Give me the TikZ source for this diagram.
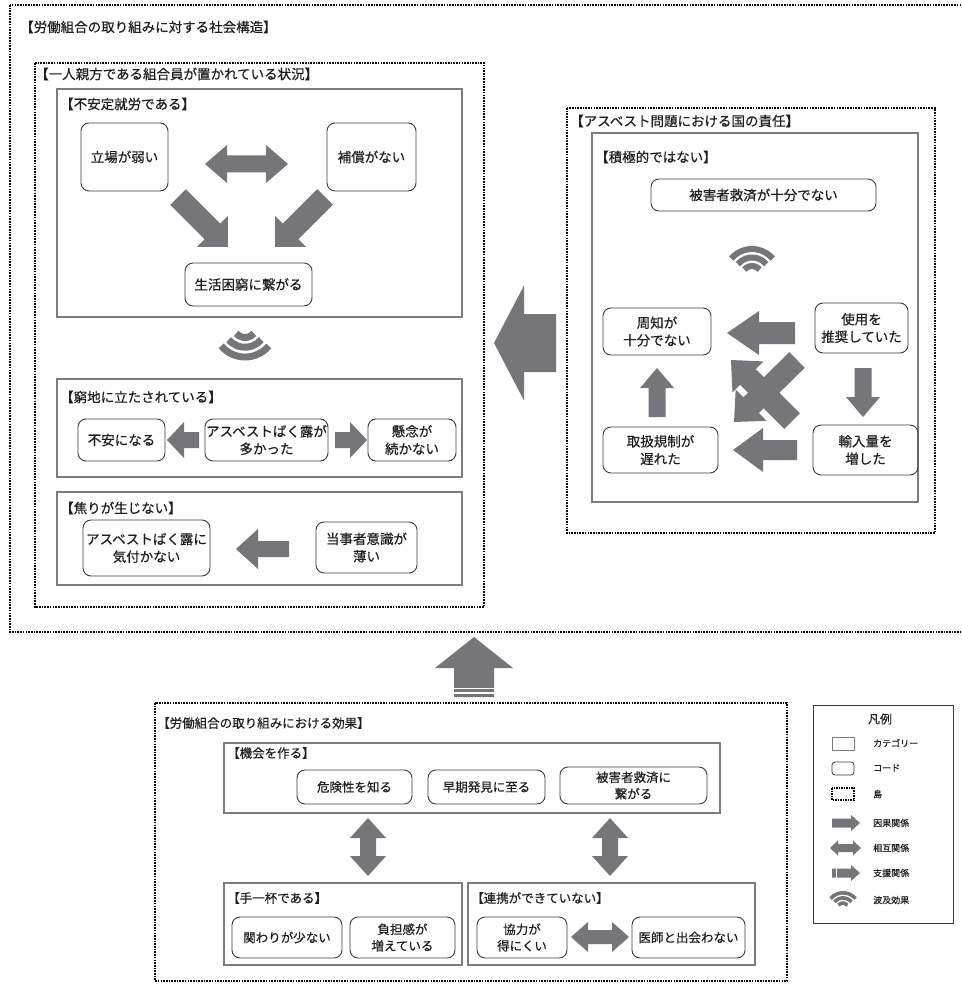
\documentclass[tikz,border=0pt]{standalone}
\usepackage{fontspec}
\setmainfont{Noto Sans CJK JP}[FakeBold=0.35]
\usetikzlibrary{calc}
\definecolor{arr}{RGB}{117,117,122}
\definecolor{catc}{RGB}{125,125,125}
\definecolor{codec}{RGB}{60,60,60}
\definecolor{txt}{RGB}{30,30,30}
\newcommand\fs{\fontsize{13.5}{17.5}\selectfont}
\newcommand\fsb{\fontsize{12.5}{16.5}\selectfont}
\newcommand\fsl{\fontsize{9}{11}\selectfont}
\tikzset{
  island/.style={draw=black, line width=1.6pt, dash pattern=on 1.6pt off 1.1pt},
  catbox/.style={draw=catc, line width=1.1pt, inner sep=0pt},
  codebox/.style={draw=codec, line width=0.9pt, rounded corners=8pt, align=center, inner sep=0pt, text=txt, font=\fs},
  codeb/.style={codebox, font=\fsb},
  lbl/.style={anchor=west, inner sep=0pt, text=txt, font=\fs},
  lblb/.style={lbl, font=\fsb},
  leg/.style={anchor=west, inner sep=0pt, text=txt, font=\fsl},
}
\newcommand\faprep[2]{%
  \path let \p1=(#1), \p2=(#2) in \pgfextra{%
    \pgfmathsetmacro\tmpang{atan2((\y2)-(\y1),(\x2)-(\x1))}%
    \pgfmathsetmacro\tmplen{veclen((\x2)-(\x1),(\y2)-(\y1))}%
    \xdef\faang{\tmpang}\xdef\falen{\tmplen}};}
% #2 from, #3 to, #4 half shaft, #5 half head, #6 head length
\newcommand\fatarrow[6][]{%
  \faprep{#2}{#3}%
  \fill[arr,shift={(#2)},rotate=\faang,#1] (0,-#4) -- ({\falen-#6},-#4) -- ({\falen-#6},-#5) -- (\falen,0) -- ({\falen-#6},#5) -- ({\falen-#6},#4) -- (0,#4) -- cycle;}
\newcommand\fatdouble[6][]{%
  \faprep{#2}{#3}%
  \fill[arr,shift={(#2)},rotate=\faang,#1] (0,0) -- (#6,-#5) -- (#6,-#4) -- ({\falen-#6},-#4) -- ({\falen-#6},-#5) -- (\falen,0) -- ({\falen-#6},#5) -- ({\falen-#6},#4) -- (#6,#4) -- (#6,#5) -- cycle;}
% stripe across last drawn arrow: #1 from, #2 distance, #3 half width, #4 thickness
\newcommand\fastripe[4]{%
  \draw[white,line width=#4,shift={(#1)},rotate=\faang] (#2,{-#3-1}) -- (#2,{#3+1});}
% ripple icon: #1 centre, #2 scale, #3 start angle, #4 end angle
\newcommand\wifi[4]{%
  \begin{scope}[shift={(#1)}]
    \foreach \r in {10,18.5,27}{
      \draw[arr,line width=6*#2] (#3:\r*#2) arc[start angle=#3,end angle=#4,radius=\r*#2];}
  \end{scope}}
\begin{document}
\begin{tikzpicture}[x=1pt,y=-1pt]
\useasboundingbox (0,0) rectangle (961,984);
\fill[white] (0,0) rectangle (961,984);

% ---------------- islands
\draw[island] (10,5) rectangle (975,632);
\node[lbl] (t0) at (20,27) {【労働組合の取り組みに対する社会構造】};
\draw[island] (35,63) rectangle (484,607);
\node[lbl] (t1) at (35,74) {【一人親方である組合員が置かれている状況】};
\draw[island] (567,108) rectangle (935,533);
\node[lbl] (t2) at (570,121) {【アスベスト問題における国の責任】};
\draw[island] (155,703) rectangle (787,981);
\node[lblb] (t3) at (157,723) {【労働組合の取り組みにおける効果】};

% ---------------- categories
\draw[catbox] (57,89) rectangle (462,317);
\node[lbl] (k1) at (60,104) {【不安定就労である】};
\draw[catbox] (57,379) rectangle (462,477);
\node[lbl] (k2) at (60,397) {【窮地に立たされている】};
\draw[catbox] (57,492) rectangle (462,585);
\node[lbl] (k3) at (60,508) {【焦りが生じない】};
\draw[catbox] (592,133) rectangle (918,502);
\node[lbl] (k4) at (595,157) {【積極的ではない】};
\draw[catbox] (224,743) rectangle (720,813);
\node[lblb] (k5) at (227,753) {【機会を作る】};
\draw[catbox] (224,883) rectangle (462,965);
\node[lblb] (k6) at (227,898) {【手一杯である】};
\draw[catbox] (468,883) rectangle (755,965);
\node[lblb] (k7) at (471,898) {【連携ができていない】};

% ---------------- codes
\node[codebox,minimum width=87,minimum height=68] (a1) at (124.5,157) {立場が弱い};
\node[codebox,minimum width=89,minimum height=68] (a2) at (371.5,157) {補償がない};
\node[codebox,minimum width=127,minimum height=43] (a3) at (248.5,284.5) {生活困窮に繋がる};
\node[codebox,minimum width=87,minimum height=42] (b1) at (121.5,440) {不安になる};
\node[codebox,minimum width=123,minimum height=42] (b2) at (266.5,440) {アスベストばく露が\\多かった};
\node[codebox,minimum width=88,minimum height=42] (b3) at (412,440) {懸念が\\続かない};
\node[codebox,minimum width=127,minimum height=56] (c1) at (146.5,548) {アスベストばく露に\\気付かない};
\node[codebox,minimum width=101,minimum height=51] (c2) at (366.5,547.5) {当事者意識が\\薄い};
\node[codebox,minimum width=225,minimum height=32] (d1) at (763.5,195) {被害者救済が十分でない};
\node[codebox,minimum width=108,minimum height=47] (d2) at (657,331.5) {周知が\\十分でない};
\node[codebox,minimum width=93,minimum height=50] (d3) at (861.5,328) {使用を\\推奨していた};
\node[codebox,minimum width=115,minimum height=46] (d4) at (660.5,450) {取扱規制が\\遅れた};
\node[codebox,minimum width=105,minimum height=50] (d5) at (865.5,450) {輸入量を\\増した};
\node[codeb,minimum width=115,minimum height=34] (e1) at (354.5,787) {危険性を知る};
\node[codeb,minimum width=117,minimum height=34] (e2) at (486.5,787) {早期発見に至る};
\node[codeb,minimum width=147,minimum height=37] (e3) at (633.5,785.5) {被害者救済に\\繋がる};
\node[codeb,minimum width=110,minimum height=41] (f1) at (287,937.5) {関わりが少ない};
\node[codeb,minimum width=105,minimum height=41] (f2) at (402.5,937.5) {負担感が\\増えている};
\node[codeb,minimum width=90,minimum height=41] (g1) at (522,937.5) {協力が\\得にくい};
\node[codeb,minimum width=113,minimum height=41] (g2) at (688.5,937.5) {医師と出会わない};

% ---------------- arrow end points
\coordinate (p1s) at (205,164);  \coordinate (p1e) at (288,164);
\coordinate (p2s) at (178,197);  \coordinate (p2e) at (228,247);
\coordinate (p3s) at (325,197);  \coordinate (p3e) at (275,247);
\coordinate (p4s) at (199,440);  \coordinate (p4e) at (167,440);
\coordinate (p5s) at (335,440);  \coordinate (p5e) at (367,440);
\coordinate (p6s) at (289,549);  \coordinate (p6e) at (236,549);
\coordinate (q1s) at (795,333);  \coordinate (q1e) at (727,333);
\coordinate (q2s) at (863,368);  \coordinate (q2e) at (863,417);
\coordinate (q3s) at (657,417);  \coordinate (q3e) at (657,368);
\coordinate (q4s) at (797,450);  \coordinate (q4e) at (733,450);
\coordinate (q5s) at (792,421);  \coordinate (q5e) at (731,360);
\coordinate (q6s) at (797,360);  \coordinate (q6e) at (734,422);
\coordinate (m1s) at (556,343);  \coordinate (m1e) at (494,343);
\coordinate (m2s) at (474,697);  \coordinate (m2e) at (474,637);
\coordinate (r1s) at (368,818);  \coordinate (r1e) at (368,876);
\coordinate (r2s) at (610,818);  \coordinate (r2e) at (610,876);
\coordinate (r3s) at (571,937);  \coordinate (r3e) at (629,937);

\fatdouble{p1s}{p1e}{8.5}{19}{22}
\fatarrow{p2s}{p2e}{11}{22}{22}
\fatarrow{p3s}{p3e}{11}{22}{22}
\fatarrow{p4s}{p4e}{8}{18}{17}
\fatarrow{p5s}{p5e}{8}{18}{17}
\fatarrow{p6s}{p6e}{8}{20}{22}
\fatarrow{q1s}{q1e}{11}{22}{32}
\fatarrow{q2s}{q2e}{8.5}{17}{20}
\fatarrow{q3s}{q3e}{8.5}{17}{20}
\fatarrow{q4s}{q4e}{10}{22}{30}
\fatarrow{q5s}{q5e}{11}{22}{24}
\fatarrow{q6s}{q6e}{11}{22}{24}
\fatarrow{m1s}{m1e}{29}{57.5}{30}
\fatarrow{m2s}{m2e}{20}{39}{31}
\fastripe{m2s}{4}{20}{1.3pt}
\fastripe{m2s}{8.5}{20}{1.3pt}
\fatdouble{r1s}{r1e}{8}{18}{20}
\fatdouble{r2s}{r2e}{8}{18}{20}
\fatdouble{r3s}{r3e}{7}{15}{17}

% ---------------- ripple icons
\coordinate (w1) at (245,326);
\wifi{w1}{1.15}{40}{140}
\coordinate (w2) at (752,276);
\wifi{w2}{1}{220}{320}

% ---------------- legend
\draw[draw=codec,line width=0.8pt] (813,705) rectangle (953,923);
\node[inner sep=0pt,text=txt,font=\fontsize{12}{14}\selectfont] (lt) at (880,719) {凡例};
\draw[catbox,line width=0.8pt] (832,737) rectangle (854,750);
\node[leg] (l1) at (873,743) {カテゴリー};
\draw[draw=codec,line width=0.8pt,rounded corners=3pt] (832,762) rectangle (854,775);
\node[leg] (l2) at (873,768) {コード};
\draw[island,line width=1.5pt,dash pattern=on 1.5pt off 1pt] (832,788) rectangle (854,800);
\node[leg] (l3) at (873,794) {島};
\coordinate (ls1) at (832,823); \coordinate (le1) at (860,823);
\coordinate (ls2) at (830,848); \coordinate (le2) at (861,848);
\coordinate (ls3) at (832,873); \coordinate (le3) at (860,873);
\fatarrow{ls1}{le1}{4.5}{8}{9}
\fatdouble{ls2}{le2}{4}{7.5}{8}
\fatarrow{ls3}{le3}{4.5}{8}{9}
\fastripe{ls3}{4}{4.5}{0.8pt}
\node[leg] (l4) at (873,823) {因果関係};
\node[leg] (l5) at (873,848) {相互関係};
\node[leg] (l6) at (873,873) {支援関係};
\coordinate (w3) at (843,909);
\wifi{w3}{0.6}{220}{320}
\node[leg] (l7) at (873,900) {波及効果};
\end{tikzpicture}
\end{document}
